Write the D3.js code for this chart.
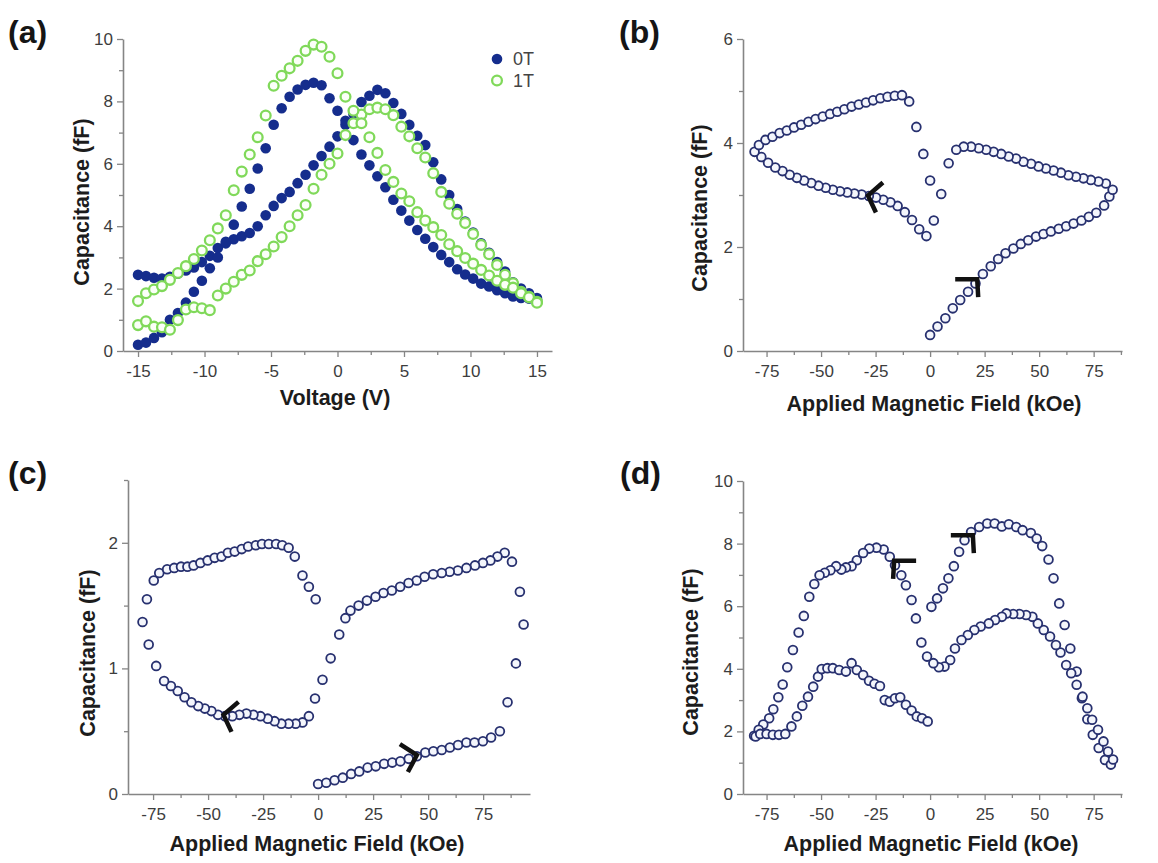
<!DOCTYPE html>
<html>
<head>
<meta charset="utf-8">
<script src="https://cdn.jsdelivr.net/npm/d3@7"></script>
<style>
body { margin: 0; background: #fff; }
text { font-family: "Liberation Sans", Arial, sans-serif; }
</style>
</head>
<body>
<div id="chart"></div>
<script>
// ---- panel (a): capacitance vs voltage, two field values ----
const voltage = [-15, -14.4, -13.8, -13.2, -12.6, -12, -11.4, -10.8, -10.2, -9.6, -9, -8.4, -7.8, -7.2, -6.6, -6, -5.4, -4.8, -4.2, -3.6, -3, -2.4, -1.8, -1.2, -0.6, 0, 0.6, 1.2, 1.8, 2.4, 3, 3.6, 4.2, 4.8, 5.4, 6, 6.6, 7.2, 7.8, 8.4, 9, 9.6, 10.2, 10.8, 11.4, 12, 12.6, 13.2, 13.8, 14.4, 15];
const cap0TUp = [2.44, 2.40, 2.35, 2.32, 2.38, 2.48, 2.58, 2.68, 2.85, 3.05, 3.30, 3.45, 3.58, 3.68, 3.78, 4.00, 4.35, 4.65, 4.90, 5.10, 5.38, 5.65, 5.95, 6.25, 6.55, 6.88, 7.25, 7.60, 7.98, 8.18, 8.37, 8.26, 7.95, 7.60, 7.25, 6.90, 6.60, 6.05, 5.50, 5.00, 4.55, 4.15, 3.80, 3.45, 3.15, 2.85, 2.55, 2.20, 2.00, 1.85, 1.70];
const cap0TDown = [0.20, 0.27, 0.42, 0.60, 1.00, 1.22, 1.55, 1.90, 2.25, 2.65, 3.00, 3.50, 4.05, 4.63, 5.20, 5.85, 6.50, 7.25, 7.78, 8.15, 8.38, 8.53, 8.60, 8.52, 8.10, 7.70, 7.38, 6.76, 6.30, 5.95, 5.60, 5.25, 4.85, 4.50, 4.18, 3.88, 3.60, 3.33, 3.08, 2.85, 2.62, 2.45, 2.32, 2.16, 2.07, 1.95, 1.85, 1.75, 1.70, 1.68, 1.65];
const cap1TUp = [0.83, 0.95, 0.78, 0.76, 0.68, 0.99, 1.33, 1.40, 1.37, 1.31, 1.78, 2.00, 2.22, 2.44, 2.58, 2.88, 3.10, 3.35, 3.65, 4.00, 4.35, 4.68, 5.20, 5.65, 6.00, 6.33, 6.92, 7.30, 7.58, 7.75, 7.80, 7.75, 7.56, 7.19, 6.88, 6.50, 6.20, 5.70, 5.10, 4.72, 4.40, 4.10, 3.75, 3.40, 3.10, 2.76, 2.44, 2.17, 1.90, 1.74, 1.58];
const cap1TDown = [1.60, 1.85, 1.97, 2.08, 2.28, 2.50, 2.72, 2.95, 3.22, 3.55, 3.93, 4.35, 5.15, 5.75, 6.30, 6.85, 7.55, 8.50, 8.82, 9.06, 9.30, 9.62, 9.82, 9.75, 9.43, 8.90, 8.15, 7.70, 7.30, 6.85, 6.35, 5.80, 5.42, 5.05, 4.80, 4.45, 4.18, 3.97, 3.72, 3.42, 3.20, 2.98, 2.80, 2.60, 2.42, 2.25, 2.12, 2.03, 1.85, 1.72, 1.55];
const legendNames = ["0T", "1T"];

// ---- panel (b): [field kOe, capacitance fF] ----
const bVirgin = [[0,0.31],[3.4,0.47],[7,0.63],[10.4,0.82],[13.8,0.98],[17.4,1.14],[20.8,1.3],[24.2,1.48],[27.8,1.63],[31.2,1.77],[34.6,1.88],[38.2,1.97],[41.6,2.06],[45,2.13],[48.6,2.2],[52,2.25],[55.4,2.3],[59,2.35],[62.4,2.4],[65.8,2.45],[69.4,2.51],[72.8,2.58],[76.2,2.66],[79.8,2.8],[82.2,2.97],[83.7,3.1]];
const bUpperRight = [[80.6,3.22],[77.2,3.26],[73.7,3.29],[70.3,3.32],[66.9,3.35],[63.4,3.38],[60,3.43],[56.6,3.47],[53.1,3.51],[49.7,3.55],[46.3,3.6],[42.8,3.64],[39.4,3.7],[36,3.74],[32.6,3.79],[29.1,3.83],[25.7,3.87],[22.3,3.9],[18.8,3.93],[15.4,3.93],[12,3.87],[8.5,3.61],[5.1,3.02],[1.7,2.51]];
const bLowerLeft = [[-1.7,2.21],[-5,2.34],[-8.3,2.52],[-11.6,2.67],[-14.9,2.79],[-18.2,2.86],[-21.5,2.91],[-24.8,2.95],[-28.1,2.98],[-31.4,3.01],[-34.7,3.03],[-38,3.05],[-41.3,3.07],[-44.6,3.1],[-47.9,3.14],[-51.2,3.18],[-54.5,3.23],[-57.8,3.28],[-61.1,3.33],[-64.4,3.39],[-67.7,3.46],[-71,3.53],[-74.3,3.62],[-77.4,3.73],[-80.5,3.83]];
const bUpperLeft = [[-78.5,3.96],[-75.5,4.06],[-72.3,4.12],[-69,4.19],[-65.7,4.24],[-62.4,4.3],[-59.1,4.35],[-55.8,4.41],[-52.5,4.46],[-49.2,4.51],[-45.9,4.56],[-42.6,4.6],[-39.3,4.65],[-36,4.7],[-32.7,4.74],[-29.4,4.78],[-26.1,4.82],[-22.8,4.86],[-19.5,4.89],[-16.2,4.91],[-12.9,4.92],[-9.6,4.8],[-6.3,4.31],[-3.1,3.79],[0,3.28]];

// ---- panel (c) ----
const cVirgin = [[0,0.08],[3.7,0.09],[7.5,0.11],[11.2,0.13],[15,0.16],[18.7,0.18],[22.5,0.21],[26.2,0.22],[30,0.24],[33.7,0.25],[37.4,0.26],[41.2,0.28],[44.9,0.3],[48.7,0.33],[52.4,0.34],[56.2,0.35],[59.9,0.37],[63.6,0.39],[67.4,0.41],[71.1,0.41],[74.9,0.42],[78.6,0.45],[82.6,0.5],[86.1,0.73],[89.9,1.04],[93.4,1.35]];
const cDown = [[91.7,1.61],[88.1,1.85],[84.8,1.92],[81.5,1.89],[78.3,1.86],[74.9,1.84],[71.3,1.82],[67.4,1.8],[63.5,1.78],[59.8,1.77],[56.2,1.76],[52.3,1.75],[48.4,1.73],[44.8,1.7],[41.1,1.68],[37.3,1.65],[33.5,1.62],[29.7,1.6],[26.1,1.57],[22.2,1.54],[18.4,1.5],[14.7,1.46],[12.4,1.4],[9.6,1.27],[5.7,1.08],[2,0.91],[-1.4,0.76],[-4.2,0.62],[-7.1,0.57],[-10.2,0.56],[-13.4,0.56],[-16.7,0.56],[-19.8,0.58],[-22.9,0.6],[-26.2,0.62],[-29.4,0.63],[-32.6,0.64],[-35.8,0.63],[-39,0.62],[-42.3,0.62],[-45.5,0.63],[-48.5,0.66],[-51.5,0.68],[-54.5,0.7],[-57.6,0.73],[-60.7,0.77],[-63.8,0.82],[-66.9,0.86],[-70,0.9],[-73.6,1.02],[-77,1.19],[-79.8,1.37]];
const cUp = [[-77.8,1.55],[-74.7,1.7],[-72.2,1.76],[-68.6,1.79],[-65.4,1.8],[-62.3,1.81],[-59.4,1.81],[-56.6,1.82],[-53.5,1.84],[-50.2,1.86],[-47,1.88],[-43.9,1.89],[-41,1.92],[-37.9,1.93],[-34.7,1.95],[-31.8,1.97],[-28.3,1.98],[-25.5,1.99],[-22.4,1.99],[-19.1,1.99],[-16.3,1.98],[-13.4,1.96],[-10.6,1.89],[-7.1,1.74],[-4.2,1.65],[-1.1,1.55]];

// ---- panel (d) ----
const dUpRight = [[0.6,5.98],[3.2,6.25],[5.9,6.57],[8.4,6.89],[10.9,7.28],[13.3,7.74],[15.8,8.11],[18.8,8.37],[22.5,8.53],[26.2,8.64],[29.6,8.64],[32.9,8.55],[36.1,8.62],[39.5,8.53],[42.4,8.43],[46.2,8.34],[48.9,8.16],[51.4,7.92],[54.3,7.49],[56.6,6.89],[59.2,6.09],[61.7,5.4],[64.3,4.65],[67.2,3.91],[69.6,3.06],[72.1,2.39],[74.6,1.89],[77.3,1.47],[80.2,1.09],[82.9,0.94]];
const dDown = [[83.9,1.1],[81.6,1.36],[79.5,1.68],[77,2.05],[74.3,2.37],[72.1,2.74],[69.9,3.11],[67.2,3.49],[64.7,3.86],[62.4,4.12],[59.8,4.52],[57.7,4.76],[55,5.03],[52.1,5.24],[49.4,5.45],[46.9,5.66],[44,5.72],[41,5.75],[38.1,5.75],[35,5.77],[32.9,5.66],[29.8,5.56],[26.9,5.45],[23.2,5.35],[20.3,5.24],[17.3,5.08],[14.4,4.92],[11.4,4.65],[9.2,4.28],[6.6,4.07],[4,4.05],[1.5,4.18],[-1.4,4.39],[-4,4.84],[-6.5,5.61],[-8.5,6.2],[-11.1,6.67],[-13.2,6.99],[-16.1,7.31],[-18.5,7.58],[-21.3,7.81],[-24.6,7.87],[-27.9,7.84],[-30.7,7.7],[-33.6,7.47],[-36,7.28],[-38.6,7.24],[-40.7,7.17],[-43.1,7.28],[-45.7,7.15],[-48.3,7.07],[-50.7,6.99],[-53.1,6.71],[-55.4,6.3],[-57.9,5.69],[-60.3,5.16],[-62.9,4.6],[-65.5,4.05],[-67.6,3.5],[-69.6,3.09],[-71.9,2.71],[-73.8,2.42],[-76.5,2.22],[-78.6,2.05],[-80.7,1.86]];
const dUpLeft = [[-80,1.84],[-77.9,1.92],[-75,1.92],[-72.1,1.89],[-69.3,1.89],[-66.4,1.92],[-63.6,2.16],[-61.1,2.48],[-58.6,2.82],[-56,3.11],[-53.6,3.43],[-51.4,3.75],[-49.7,3.99],[-47.1,4.02],[-44.6,4.02],[-41.7,3.96],[-38.6,3.91],[-36,4.18],[-33.6,3.96],[-30.7,3.8],[-28,3.62],[-25.5,3.52],[-23,3.45],[-20.8,3.0],[-18.5,2.95],[-16.1,3.06],[-13.7,3.09],[-11.1,2.85],[-8.5,2.67],[-6.1,2.48],[-3.7,2.42],[-1.1,2.32]];

// direction markers, anchored on the data
const arrowsB = [{at: [-28.5, 2.99], shape: "left"}, {at: [21.6, 1.38], shape: "upRight"}];
const arrowsC = [{at: [-43, 0.63], shape: "left"}, {at: [44.9, 0.31], shape: "right"}];
const arrowsD = [{at: [-16.5, 7.45], shape: "upLeft"}, {at: [19.6, 8.27], shape: "upRight"}];

// tick values
const voltTicks = [-15, -10, -5, 0, 5, 10, 15];
const voltMinor = [-12.5, -7.5, -2.5, 2.5, 7.5, 12.5];
const fieldTicks = [-75, -50, -25, 0, 25, 50, 75];
const fieldMinor = [-62.5, -37.5, -12.5, 12.5, 37.5, 62.5, 87.5];
const cap10Ticks = [0, 2, 4, 6, 8, 10];
const cap10Minor = [1, 3, 5, 7, 9];
const cap6Ticks = [0, 2, 4, 6];
const cap6Minor = [1, 3, 5];
const cap25Ticks = [0, 1, 2];
const cap25Minor = [0.5, 1.5, 2.5];

const xLabelVolt = "Voltage (V)";
const xLabelField = "Applied Magnetic Field (kOe)";
const yLabelCap = "Capacitance (fF)";

const width = 1158, height = 863;
const axisColor = "#858585";
const navy = "#27306f";

const svg = d3.select("#chart").append("svg")
	.attr("width", width)
	.attr("height", height);

const arrowShapes = {
	left: [[15, -13], [0, 0], [8, 17]],
	right: [[-17, -11], [0, 0], [-9, 17]],
	upRight: [[-22, 0], [0, 0], [1, 18]],
	upLeft: [[22, 0], [0, 0], [-1, 18]]
};

function drawPanel(p) {
	const g = svg.append("g").attr("class", "panel");
	const x = d3.scaleLinear().domain(p.xDom).range([p.left, p.right]);
	const y = d3.scaleLinear().domain(p.yDom).range([p.bottom, p.top]);

	// x axis, major then minor ticks
	g.append("g")
		.attr("transform", `translate(0,${p.bottom})`)
		.call(d3.axisBottom(x).tickValues(p.xTicks).tickSize(6).tickSizeOuter(0).tickPadding(8).tickFormat(d => String(d)));
	g.append("g")
		.attr("transform", `translate(0,${p.bottom})`)
		.call(d3.axisBottom(x).tickValues(p.xMinor.filter(v => v <= p.xDom[1])).tickSize(4).tickSizeOuter(0).tickFormat(""))
		.call(s => s.select(".domain").remove());

	g.append("g")
		.attr("transform", `translate(${p.left},0)`)
		.call(d3.axisLeft(y).tickValues(p.yTicks).tickSize(6).tickSizeOuter(0).tickPadding(4).tickFormat(d => String(d)));
	g.append("g")
		.attr("transform", `translate(${p.left},0)`)
		.call(d3.axisLeft(y).tickValues(p.yMinor).tickSize(4).tickSizeOuter(0).tickFormat(""))
		.call(s => s.select(".domain").remove());

	g.selectAll(".domain").attr("stroke", axisColor).attr("stroke-width", 1.6);
	g.selectAll(".tick line").attr("stroke", axisColor).attr("stroke-width", 1.3);
	g.selectAll(".tick text")
		.attr("fill", "#3d3d3d")
		.attr("font-size", 17)
		.attr("font-family", "'Liberation Sans', Arial, sans-serif");

	// axis titles
	g.append("text")
		.attr("x", p.xTitlePos[0]).attr("y", p.xTitlePos[1])
		.attr("text-anchor", "middle")
		.attr("font-size", 21.5).attr("font-weight", "bold").attr("fill", "#1c1c1c")
		.text(p.xTitle);
	g.append("text")
		.attr("transform", `translate(${p.yTitlePos[0]},${p.yTitlePos[1]}) rotate(-90)`)
		.attr("text-anchor", "middle")
		.attr("font-size", 21.5).attr("font-weight", "bold").attr("fill", "#1c1c1c")
		.text(yLabelCap);

	// panel letter
	g.append("text")
		.attr("x", p.labelPos[0]).attr("y", p.labelPos[1])
		.attr("font-size", 32).attr("font-weight", "bold").attr("fill", "#151515")
		.text(p.label);

	// data
	p.series.forEach(s => {
		g.append("g").selectAll("circle")
			.data(s.points)
			.join("circle")
				.attr("cx", d => x(d[0]))
				.attr("cy", d => y(d[1]))
				.attr("r", s.style.r)
				.attr("fill", s.style.fill)
				.attr("stroke", s.style.stroke)
				.attr("stroke-width", s.style.sw);
	});

	// direction arrows
	const line = d3.line();
	(p.arrows || []).forEach(a => {
		const cx = x(a.at[0]), cy = y(a.at[1]);
		g.append("path")
			.attr("d", line(arrowShapes[a.shape].map(o => [cx + o[0], cy + o[1]])))
			.attr("fill", "none")
			.attr("stroke", "#111")
			.attr("stroke-width", 4.5)
			.attr("stroke-linejoin", "miter");
	});

	return {x, y, g};
}

const openNavy = {r: 4.4, fill: "#f4f6fc", stroke: navy, sw: 1.8};
const blueFill = {r: 5.3, fill: "#152d8d", stroke: "none", sw: 0};
const greenRing = {r: 4.9, fill: "#fbfff8", stroke: "#80d95a", sw: 2.3};

const panelA = drawPanel({
	left: 123, right: 552, top: 39, bottom: 351,
	xDom: [-16.13, 16.13], yDom: [0, 10],
	xTicks: voltTicks, xMinor: voltMinor, yTicks: cap10Ticks, yMinor: cap10Minor,
	xTitle: xLabelVolt, xTitlePos: [335, 405], yTitlePos: [89, 202],
	label: "(a)", labelPos: [8, 43],
	series: [
		{points: d3.zip(voltage, cap0TUp), style: blueFill},
		{points: d3.zip(voltage, cap0TDown), style: blueFill},
		{points: d3.zip(voltage, cap1TUp), style: greenRing},
		{points: d3.zip(voltage, cap1TDown), style: greenRing}
	]
});

drawPanel({
	left: 743, right: 1122, top: 39, bottom: 351,
	xDom: [-85.8, 88], yDom: [0, 6],
	xTicks: fieldTicks, xMinor: fieldMinor, yTicks: cap6Ticks, yMinor: cap6Minor,
	xTitle: xLabelField, xTitlePos: [934, 411], yTitlePos: [707, 208],
	label: "(b)", labelPos: [619, 43],
	series: [bVirgin, bUpperRight, bLowerLeft, bUpperLeft].map(p => ({points: p, style: openNavy})),
	arrows: arrowsB
});

drawPanel({
	left: 128, right: 530, top: 480, bottom: 794,
	xDom: [-86.4, 96.3], yDom: [0, 2.5],
	xTicks: fieldTicks, xMinor: fieldMinor, yTicks: cap25Ticks, yMinor: cap25Minor,
	xTitle: xLabelField, xTitlePos: [317, 851], yTitlePos: [95, 653],
	label: "(c)", labelPos: [8, 484],
	series: [cVirgin, cDown, cUp].map(p => ({points: p, style: openNavy})),
	arrows: arrowsC
});

drawPanel({
	left: 743, right: 1122, top: 481, bottom: 794,
	xDom: [-85.8, 88], yDom: [0, 10],
	xTicks: fieldTicks, xMinor: fieldMinor, yTicks: cap10Ticks, yMinor: cap10Minor,
	xTitle: xLabelField, xTitlePos: [931, 851], yTitlePos: [698, 652],
	label: "(d)", labelPos: [620, 484],
	series: [dUpRight, dDown, dUpLeft].map(p => ({points: p, style: openNavy})),
	arrows: arrowsD
});

// legend for (a)
const legend = panelA.g.append("g").attr("class", "legend");
const legendStyles = [blueFill, greenRing];
legendNames.forEach((name, i) => {
	const st = legendStyles[i];
	legend.append("circle")
		.attr("cx", 497).attr("cy", 59 + i * 21.5)
		.attr("r", st.r)
		.attr("fill", st.fill).attr("stroke", st.stroke).attr("stroke-width", st.sw);
	legend.append("text")
		.attr("x", 513).attr("y", 59 + i * 21.5)
		.attr("dy", "0.35em")
		.attr("font-size", 18).attr("fill", "#444")
		.text(name);
});
</script>
</body>
</html>
